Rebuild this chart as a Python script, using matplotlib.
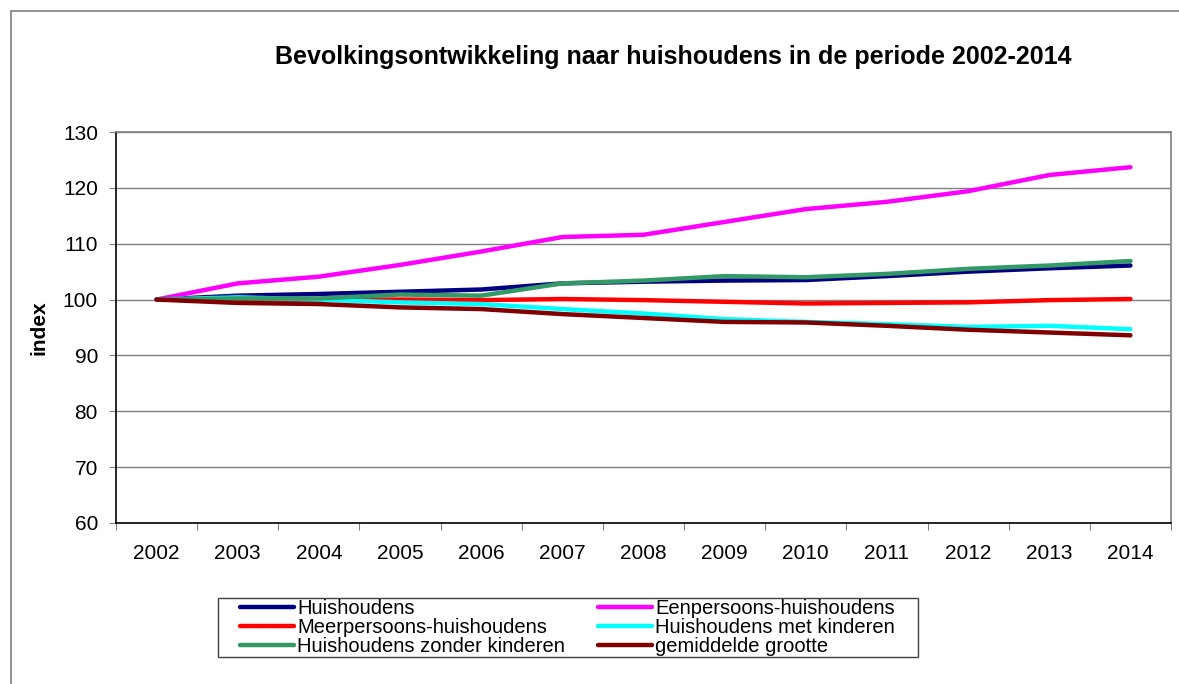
import matplotlib
matplotlib.use("Agg")
import matplotlib.pyplot as plt
from matplotlib.patches import Rectangle

years = ["2002", "2003", "2004", "2005", "2006", "2007", "2008",
	 "2009", "2010", "2011", "2012", "2013", "2014"]

huishoudens = [100, 100.7, 101.0, 101.4, 101.8, 102.9, 103.2, 103.4, 103.5, 104.2, 105.0, 105.6, 106.1]
eenpersoons = [100, 102.9, 104.1, 106.2, 108.6, 111.2, 111.6, 113.9, 116.2, 117.5, 119.4, 122.3, 123.7]
meerpersoons = [100, 100.0, 100.0, 100.0, 99.9, 100.1, 99.9, 99.6, 99.3, 99.4, 99.5, 99.9, 100.1]
met_kinderen = [100, 100.4, 100.0, 99.5, 99.2, 98.3, 97.5, 96.5, 96.0, 95.6, 95.1, 95.3, 94.7]
zonder_kinderen = [100, 100.2, 100.2, 100.9, 100.7, 102.9, 103.4, 104.2, 104.0, 104.6, 105.5, 106.1, 106.9]
gem_grootte = [100, 99.4, 99.2, 98.6, 98.3, 97.4, 96.7, 96.0, 95.9, 95.3, 94.6, 94.1, 93.6]

SERIES = [
	("Huishoudens", huishoudens, "#000080"),
	("Eenpersoons-huishoudens", eenpersoons, "#FF00FF"),
	("Meerpersoons-huishoudens", meerpersoons, "#FF0000"),
	("Huishoudens met kinderen", met_kinderen, "#00FFFF"),
	("Huishoudens zonder kinderen", zonder_kinderen, "#339966"),
	("gemiddelde grootte", gem_grootte, "#800000"),
]

plt.rcParams['font.family'] = ['Liberation Sans', 'DejaVu Sans']

W, H = 1179, 684
fig = plt.figure(figsize=(W / 100, H / 100), dpi=100)

# outer chart frame (right/bottom run off the picture)
fig.patches.append(Rectangle((11 / W, -0.1), 1.2, 1 - 11 / H + 0.1,
	transform=fig.transFigure, fill=False, edgecolor="#808080", lw=1.2))

ax = fig.add_axes([116 / W, 1 - 523 / H, (1171 - 116) / W, (523 - 132) / H])

x = list(range(len(years)))
lines = []
for name, vals, color in SERIES:
	l, = ax.plot(x, vals, color=color, lw=3.2, solid_capstyle="round",
		     solid_joinstyle="round", label=name)
	lines.append(l)

ax.set_ylim(60, 130)
ax.set_yticks(range(60, 131, 10))
ax.set_xlim(-0.5, len(years) - 0.5)
ax.set_xticks([i - 0.5 for i in range(len(years) + 1)])
ax.set_xticklabels([])
ax.set_xticks(x, minor=True)
ax.set_xticklabels(years, minor=True)
ax.tick_params(axis="x", which="minor", length=0, pad=15, labelsize=15)
ax.tick_params(axis="x", which="major", length=5, direction="out", color="#808080")
ax.tick_params(axis="y", length=5, direction="out", color="#808080", labelsize=15, pad=8)

ax.grid(axis="y", color="#808080", lw=1)
ax.set_axisbelow(True)
for s in ("top", "right"):
	ax.spines[s].set_color("#808080")
	ax.spines[s].set_linewidth(1.2)
for s in ("left", "bottom"):
	ax.spines[s].set_color("black")
	ax.spines[s].set_linewidth(1.2)

ax.set_ylabel("index", fontsize=15, fontweight="bold", labelpad=10)
fig.text(673 / W, 1 - 57 / H, "Bevolkingsontwikkeling naar huishoudens in de periode 2002-2014",
	 ha="center", va="center", fontsize=18, fontweight="bold")

# legend box drawn on its own, legend entries placed inside it
fig.patches.append(Rectangle((218 / W, 1 - 657 / H), (918 - 218) / W, (657 - 598) / H,
	transform=fig.transFigure, fill=False, edgecolor="#404040", lw=1))
order = [0, 2, 4, 1, 3, 5]
leg = fig.legend([lines[i] for i in order], [SERIES[i][0] for i in order],
		 loc="upper left", bbox_to_anchor=(238 / W, 1 - 597 / H), ncol=2,
		 fontsize=14.5, frameon=False, borderaxespad=0,
		 handlelength=2.7, handletextpad=0.15, columnspacing=1.6,
		 labelspacing=0.0, borderpad=0.1)

fig.savefig("out.png", dpi=100)
